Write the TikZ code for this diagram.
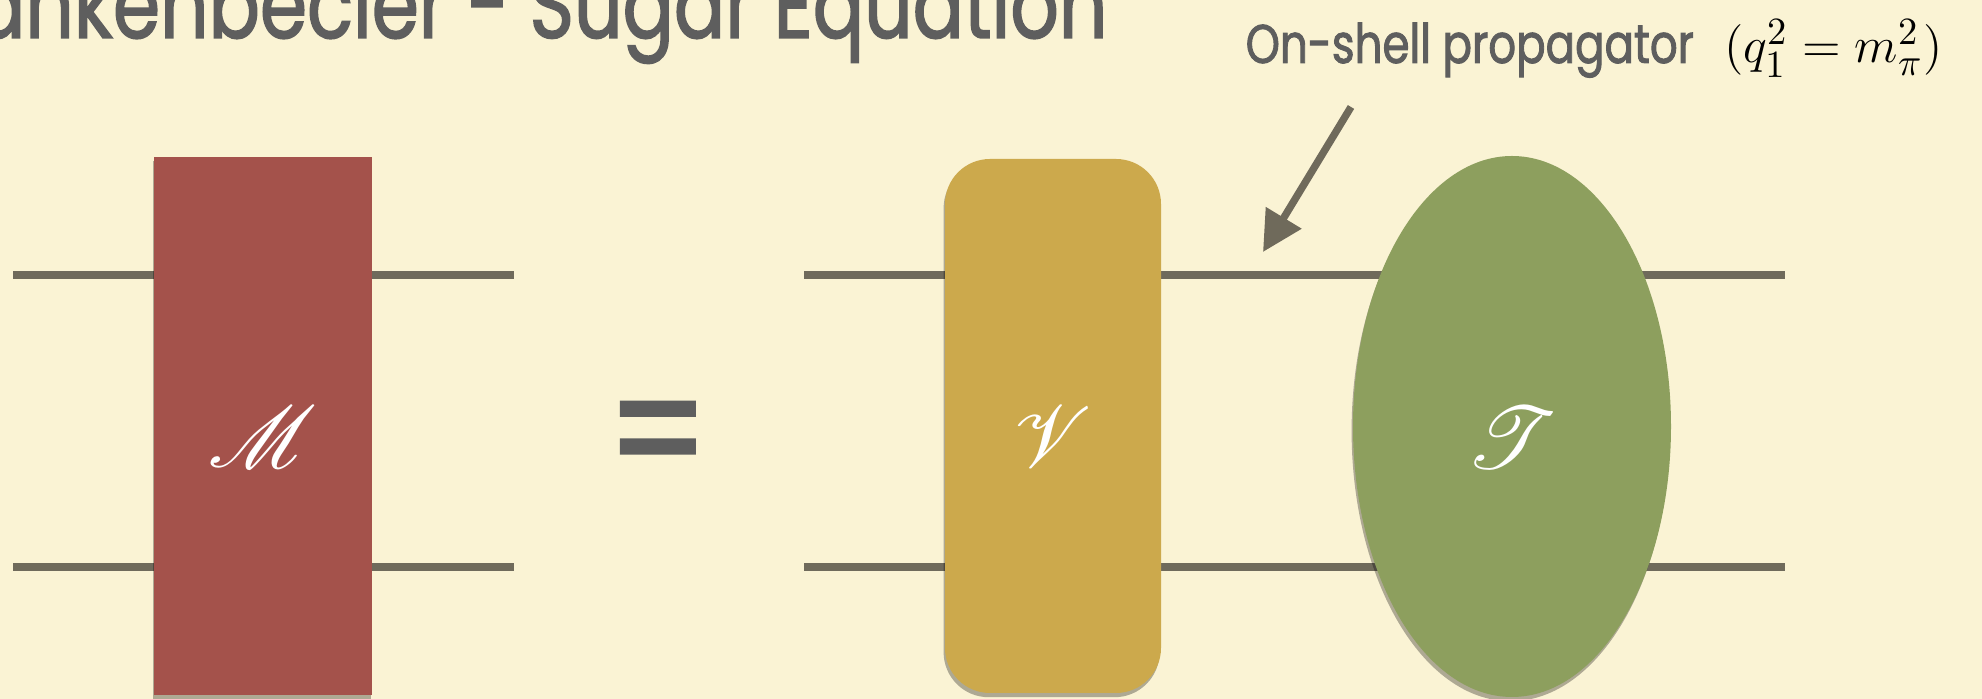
\documentclass[tikz,border=0pt]{standalone}
\usepackage{amsmath}
\usepackage{mathrsfs}
\usepackage{fontspec}
\newfontfamily\futura[FakeStretch=0.8, FakeBold=1.6]{Poppins}
\usetikzlibrary{shapes.geometric, arrows.meta, shadows}

\definecolor{paper}{RGB}{250,243,212}
\definecolor{legcol}{RGB}{111,106,91}
\definecolor{inkgray}{RGB}{94,94,94}
\definecolor{ampred}{RGB}{164,82,75}
\definecolor{potyellow}{RGB}{204,169,76}
\definecolor{tgreen}{RGB}{141,159,94}

% script letter, pushed a little below the centre of its shape
\newcommand{\amplabel}[1]{\raisebox{-0.11cm}[\height][\depth]{$\mathscr{#1}$}}

\begin{document}
\begin{tikzpicture}[
    amp/.style={draw=none, text=white, inner sep=0pt, font=\fontsize{28}{28}\selectfont,
        drop shadow={shadow xshift=-0.4pt, shadow yshift=-1.2pt, opacity=0.3, fill=black}},
    box/.style={amp, rectangle, minimum width=2.18cm, minimum height=5.38cm},
    blob/.style={amp, ellipse, minimum width=3.18cm, minimum height=5.41cm},
    leg/.style={line width=2.1pt, draw=legcol},
    pointer/.style={-{Triangle[length=0.4cm, width=0.4cm]}, line width=2.1pt, draw=legcol}
]
    % Page
    \fill[paper] (0,0) rectangle (19.82,6.99);
    \useasboundingbox (0,0) rectangle (19.82,6.99);

    % Title (runs off the page)
    \node[anchor=base east, text=inkgray, font=\futura\fontsize{27}{27}\selectfont] (title) at (11.2,6.61) {Blankenbecler - Sugar Equation};

    % Legs
    \coordinate (mTopIn) at (0.13,4.24);  \coordinate (mTopOut) at (5.14,4.24);
    \coordinate (mBotIn) at (0.13,1.32);  \coordinate (mBotOut) at (5.14,1.32);
    \coordinate (vtTopIn) at (8.04,4.24); \coordinate (vtTopOut) at (17.85,4.24);
    \coordinate (vtBotIn) at (8.04,1.32); \coordinate (vtBotOut) at (17.85,1.32);
    \draw[leg] (mTopIn) -- (mTopOut);
    \draw[leg] (mBotIn) -- (mBotOut);
    \draw[leg] (vtTopIn) -- (vtTopOut);
    \draw[leg] (vtBotIn) -- (vtBotOut);

    % Amplitudes
    \node[box, fill=ampred] (amp) at (2.63,2.73) {\amplabel{M}};
    \node[font=\futura\fontsize{50}{50}\selectfont, text=inkgray] (eq) at (6.58,2.52) {=};
    \node[box, fill=potyellow, rounded corners=0.45cm, minimum width=2.16cm, minimum height=5.34cm] (pot) at (10.53,2.73) {\amplabel{V}};
    \node[blob, fill=tgreen] (tmat) at (15.12,2.725) {\amplabel{T}};

    % On-shell label
    \node[anchor=base west, inner sep=0pt, text=inkgray, font=\futura\fontsize{15.5}{15.5}\selectfont] (onshell) at (12.45,6.36)
        {On-shell propagator\hspace{0.3cm}\color{black}$\fontsize{15}{15}\selectfont(q_1^2 = m_\pi^2)$};
    \coordinate (tail) at (13.51,5.92);
    \coordinate (tip) at (12.63,4.47);
    \draw[pointer] (tail) -- (tip);
\end{tikzpicture}
\end{document}
